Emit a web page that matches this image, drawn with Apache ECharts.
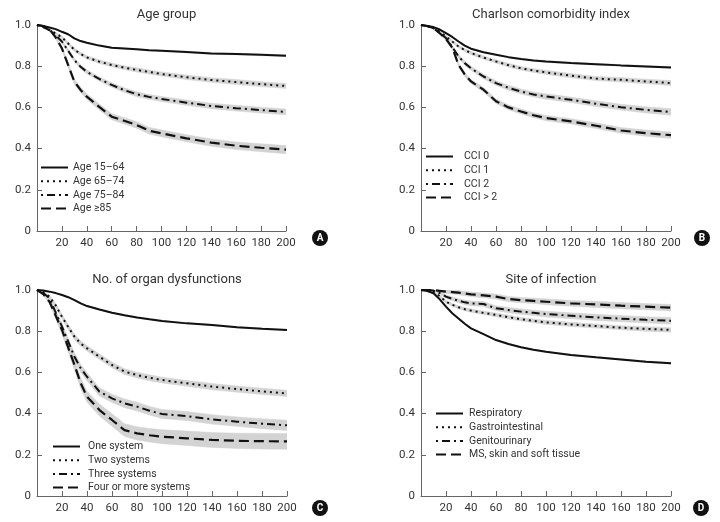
<!DOCTYPE html>
<html><head><meta charset="utf-8">
<script src="https://cdn.jsdelivr.net/npm/echarts@6/dist/echarts.min.js"></script>
<style>html,body{margin:0;padding:0;background:#fff}#c{width:720px;height:522px}</style>
</head><body><div id="c"></div>
<script>
// ---- data ----
const days = [0,5,10,15,20,25,30,35,40,50,60,70,80,90,100,120,140,160,180,200];
const xTicks = [20,40,60,80,100,120,140,160,180,200];
const yTicks = [0,0.2,0.4,0.6,0.8,1.0];

const panelTitles = ['Age group','Charlson comorbidity index','No. of organ dysfunctions','Site of infection'];
const panelLetters = ['A','B','C','D'];

// Panel A: Age group
const ageNames = ['Age 15–64','Age 65–74','Age 75–84','Age ≥85'];
const age1564 = [1.0,0.995,0.988,0.98,0.967,0.955,0.935,0.922,0.914,0.9,0.89,0.886,0.882,0.878,0.875,0.869,0.862,0.859,0.855,0.851];
const age6574 = [1.0,0.99,0.975,0.96,0.94,0.91,0.88,0.86,0.843,0.822,0.806,0.793,0.782,0.772,0.762,0.746,0.733,0.723,0.713,0.704];
const age7584 = [1.0,0.99,0.975,0.95,0.92,0.875,0.83,0.797,0.773,0.738,0.709,0.684,0.664,0.651,0.641,0.623,0.607,0.596,0.587,0.578];
const age85   = [1.0,0.995,0.98,0.94,0.887,0.806,0.725,0.685,0.652,0.603,0.555,0.535,0.515,0.487,0.474,0.45,0.429,0.414,0.404,0.395];
const age1564Ci = [0,0.001,0.002,0.002,0.003,0.003,0.003,0.003,0.003,0.003,0.003,0.003,0.003,0.003,0.003,0.004,0.004,0.004,0.004,0.004];
const age6574Ci = [0,0.002,0.004,0.005,0.006,0.007,0.008,0.008,0.008,0.009,0.009,0.009,0.01,0.01,0.01,0.011,0.011,0.012,0.012,0.012];
const age7584Ci = [0,0.002,0.004,0.006,0.007,0.008,0.009,0.009,0.01,0.01,0.011,0.011,0.012,0.012,0.012,0.013,0.013,0.014,0.014,0.014];
const age85Ci   = [0,0.003,0.005,0.008,0.01,0.011,0.012,0.013,0.013,0.014,0.015,0.015,0.016,0.016,0.017,0.017,0.018,0.018,0.019,0.02];

// Panel B: Charlson comorbidity index
const cciNames = ['CCI 0','CCI 1','CCI 2','CCI > 2'];
const cci0 = [1.0,0.995,0.99,0.978,0.961,0.942,0.92,0.9,0.885,0.868,0.856,0.844,0.835,0.828,0.823,0.815,0.81,0.804,0.799,0.794];
const cci1 = [1.0,0.995,0.985,0.968,0.945,0.92,0.896,0.878,0.864,0.842,0.823,0.805,0.79,0.779,0.77,0.754,0.74,0.734,0.726,0.718];
const cci2 = [1.0,0.995,0.985,0.962,0.937,0.893,0.848,0.815,0.79,0.75,0.718,0.695,0.677,0.663,0.653,0.637,0.618,0.601,0.588,0.578];
const cci3 = [1.0,0.995,0.985,0.96,0.932,0.89,0.807,0.76,0.726,0.686,0.63,0.6,0.58,0.562,0.548,0.532,0.511,0.488,0.475,0.465];
const cci0Ci = [0,0.001,0.002,0.002,0.003,0.003,0.003,0.003,0.003,0.003,0.003,0.003,0.003,0.004,0.004,0.004,0.004,0.004,0.004,0.004];
const cci1Ci = [0,0.002,0.003,0.004,0.005,0.006,0.007,0.007,0.008,0.008,0.008,0.009,0.009,0.009,0.01,0.01,0.01,0.011,0.011,0.012];
const cci2Ci = [0,0.002,0.004,0.006,0.007,0.008,0.009,0.01,0.01,0.011,0.011,0.012,0.012,0.012,0.013,0.013,0.014,0.014,0.015,0.016];
const cci3Ci = [0,0.002,0.004,0.006,0.007,0.008,0.009,0.01,0.01,0.011,0.011,0.012,0.012,0.012,0.013,0.013,0.014,0.014,0.015,0.016];

// Panel C: No. of organ dysfunctions
const organNames = ['One system','Two systems','Three systems','Four or more systems'];
const organ1 = [1.0,0.998,0.992,0.985,0.976,0.965,0.951,0.935,0.922,0.905,0.89,0.877,0.867,0.858,0.85,0.838,0.83,0.819,0.812,0.806];
const organ2 = [1.0,0.99,0.968,0.925,0.87,0.82,0.773,0.74,0.717,0.676,0.636,0.604,0.587,0.574,0.563,0.547,0.531,0.519,0.508,0.498];
const organ3 = [1.0,0.985,0.96,0.89,0.822,0.749,0.676,0.62,0.579,0.506,0.474,0.45,0.434,0.414,0.398,0.388,0.372,0.361,0.351,0.343];
const organ4 = [1.0,0.98,0.943,0.875,0.806,0.72,0.636,0.547,0.482,0.417,0.369,0.32,0.304,0.295,0.288,0.28,0.272,0.268,0.266,0.265];
const organ1Ci = [0,0.001,0.001,0.002,0.002,0.002,0.003,0.003,0.003,0.003,0.003,0.003,0.003,0.003,0.003,0.003,0.003,0.003,0.003,0.003];
const organ2Ci = [0,0.003,0.006,0.009,0.011,0.012,0.013,0.013,0.013,0.013,0.014,0.014,0.014,0.014,0.014,0.014,0.015,0.015,0.015,0.015];
const organ3Ci = [0,0.004,0.008,0.012,0.015,0.017,0.018,0.019,0.019,0.02,0.02,0.021,0.021,0.021,0.022,0.022,0.023,0.023,0.024,0.025];
const organ4Ci = [0,0.005,0.01,0.015,0.02,0.022,0.024,0.026,0.027,0.029,0.03,0.031,0.032,0.033,0.034,0.035,0.036,0.037,0.038,0.038];

// Panel D: Site of infection
const siteNames = ['Respiratory','Gastrointestinal','Genitourinary','MS, skin and soft tissue'];
const siteResp = [1.0,0.995,0.984,0.955,0.919,0.887,0.862,0.836,0.814,0.786,0.757,0.738,0.722,0.71,0.7,0.684,0.673,0.663,0.652,0.644];
const siteGI   = [1.0,0.997,0.992,0.97,0.943,0.928,0.916,0.907,0.9,0.889,0.879,0.868,0.858,0.85,0.843,0.833,0.825,0.817,0.811,0.806];
const siteGU   = [1.0,1.0,0.997,0.985,0.968,0.957,0.948,0.94,0.935,0.932,0.911,0.903,0.895,0.889,0.883,0.875,0.867,0.861,0.855,0.851];
const siteMS   = [1.0,1.0,1.0,0.996,0.992,0.99,0.987,0.983,0.979,0.974,0.968,0.956,0.951,0.947,0.943,0.935,0.93,0.924,0.919,0.914];
const siteRespCi = [0,0.001,0.002,0.002,0.003,0.003,0.003,0.003,0.003,0.003,0.003,0.003,0.003,0.003,0.003,0.003,0.003,0.004,0.004,0.004];
const siteGICi   = [0,0.002,0.003,0.005,0.006,0.007,0.007,0.008,0.008,0.008,0.009,0.009,0.009,0.009,0.01,0.01,0.01,0.01,0.011,0.011];
const siteGUCi   = [0,0.002,0.004,0.006,0.008,0.009,0.01,0.011,0.011,0.012,0.012,0.013,0.013,0.013,0.014,0.014,0.015,0.015,0.015,0.016];
const siteMSCi   = [0,0.002,0.004,0.006,0.008,0.009,0.01,0.011,0.011,0.012,0.012,0.013,0.013,0.013,0.014,0.014,0.015,0.015,0.015,0.016];

// ---- layout / styles ----
const FONT = 'Roboto, "Open Sans", sans-serif';
const INK = '#111';
const BAND = '#d3d3d3';
const dashes = [
  {type:'solid', width:2},
  {type:[2,4], width:2},
  {type:[2,4,8,4], width:2},
  {type:[10,5], width:2.2}
];
const grids = [
  {left:37, top:25, width:249, height:206},
  {left:421, top:25, width:250, height:206},
  {left:37, top:290, width:250, height:206},
  {left:421, top:290, width:250, height:206}
];
const legendPos = [
  {left:40, top:162},
  {left:425, top:151},
  {left:52, top:441},
  {left:435, top:408}
];
const textPad = [0, 6, 3, 1];
const letterPos = [[320,238],[702,238],[320,508],[701,508]];

const panels = [
  {names:ageNames, vals:[age1564,age6574,age7584,age85], ci:[age1564Ci,age6574Ci,age7584Ci,age85Ci]},
  {names:cciNames, vals:[cci0,cci1,cci2,cci3], ci:[cci0Ci,cci1Ci,cci2Ci,cci3Ci]},
  {names:organNames, vals:[organ1,organ2,organ3,organ4], ci:[organ1Ci,organ2Ci,organ3Ci,organ4Ci]},
  {names:siteNames, vals:[siteResp,siteGI,siteGU,siteMS], ci:[siteRespCi,siteGICi,siteGUCi,siteMSCi]}
];

function bandRenderer(rows) {
  return function (params, api) {
    if (params.dataIndex !== 0) return null;
    const upper = rows.map(r => api.coord([r[0], r[2]]));
    const lower = rows.map(r => api.coord([r[0], r[1]])).reverse();
    return {
      type:'polygon',
      shape:{points: upper.concat(lower)},
      style:{fill:BAND, stroke:BAND, lineWidth:0.5},
      silent:true
    };
  };
}

const xAxes = [], yAxes = [], series = [], legends = [], titles = [], graphics = [];
panels.forEach((p, gi) => {
  xAxes.push({
    type:'value', gridIndex:gi, min:0, max:200, interval:20,
    axisLine:{show:true, lineStyle:{color:'#666', width:1}},
    axisTick:{show:true, inside:true, length:5, lineStyle:{color:'#666'}},
    splitLine:{show:false},
    axisLabel:{color:'#333', fontSize:11.5, fontFamily:FONT, margin:6,
      formatter: v => v === 0 ? '' : String(v)}
  });
  yAxes.push({
    type:'value', gridIndex:gi, min:0, max:1, interval:0.2,
    axisLine:{show:true, lineStyle:{color:'#666', width:1}},
    axisTick:{show:true, inside:true, length:5, lineStyle:{color:'#666'}},
    splitLine:{show:false},
    axisLabel:{color:'#333', fontSize:11.5, fontFamily:FONT, margin:6,
      formatter: v => v === 0 ? '0' : v.toFixed(1)}
  });
  p.vals.forEach((vals, si) => {
    const ci = p.ci[si];
    const rows = days.map((d,i) => [d, vals[i] - ci[i], vals[i] + ci[i]]);
    series.push({
      type:'custom', name:'_band' + gi + '_' + si, xAxisIndex:gi, yAxisIndex:gi,
      data: rows, encode:{x:0, y:[1,2]},
      renderItem: bandRenderer(rows), silent:true, z:1, clip:true
    });
  });
  p.vals.forEach((vals, si) => {
    series.push({
      type:'line', name:p.names[si], xAxisIndex:gi, yAxisIndex:gi,
      data: days.map((d,i) => [d, vals[i]]),
      symbol:'none', z:5,
      lineStyle:Object.assign({color:INK, cap:'butt'}, dashes[si]),
      itemStyle:{color:INK}
    });
  });
  const lp = legendPos[gi];
  legends.push({
    data:p.names, orient:'vertical', left:lp.left, top:lp.top,
    itemWidth:27, itemHeight:10, itemGap:2.7, padding:0,
    selectedMode:false,
    itemStyle:{color:'rgba(0,0,0,0)', borderWidth:0, opacity:0},
    textStyle:{color:'#333', fontSize:10.5, fontFamily:FONT, padding:[0,0,0,textPad[gi]]}
  });
  const g = grids[gi];
  titles.push({
    text:panelTitles[gi], left:g.left + g.width/2, top:g.top - 22, textAlign:'center',
    textStyle:{color:'#333', fontSize:13, fontWeight:'normal', fontFamily:FONT}
  });
  graphics.push({
    type:'group', x:letterPos[gi][0], y:letterPos[gi][1],
    children:[
      {type:'circle', shape:{cx:0, cy:0, r:8}, style:{fill:'#111'}},
      {type:'text', style:{text:panelLetters[gi], x:0, y:0.5, fill:'#fff', font:'bold 10px ' + FONT, textAlign:'center', textVerticalAlign:'middle'}}
    ]
  });
});

const chart = echarts.init(document.getElementById('c'), null, {renderer:'canvas'});
chart.setOption({
  animation:false,
  backgroundColor:'#fff',
  title:titles,
  grid:grids.map(g => Object.assign({containLabel:false}, g)),
  xAxis:xAxes, yAxis:yAxes,
  legend:legends,
  series:series,
  graphic:graphics
});
</script></body></html>
